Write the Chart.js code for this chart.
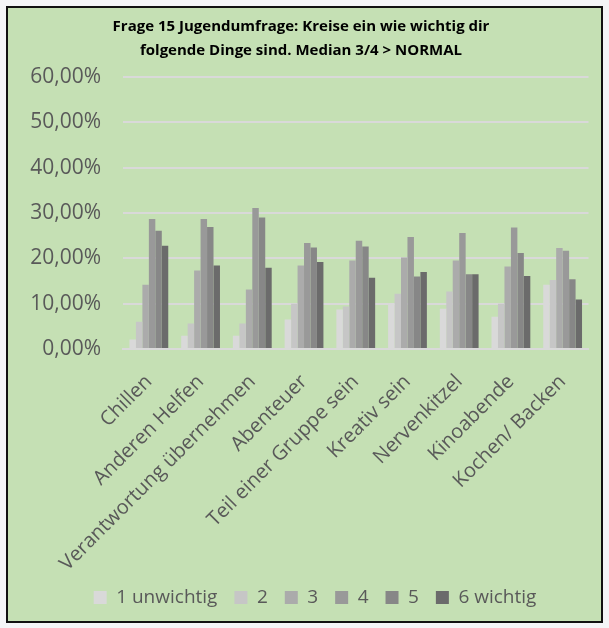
<!DOCTYPE html>
<html>
<head>
<meta charset="utf-8">
<script src="https://cdn.jsdelivr.net/npm/chart.js@4"></script>
<style>
  html, body { margin: 0; padding: 0; background: #f4f5f7; }
  #box {
    position: absolute; left: 6px; top: 6px;
    width: 593px; height: 613px;
    border: 2px solid #111; background: #c5e0b4;
  }
  #canvasId { display: block; }
</style>
</head>
<body>
<div id="box"><canvas id="canvasId" width="593" height="613"></canvas></div>
<script>
var categories = ["Chillen", "Anderen Helfen", "Verantwortung übernehmen", "Abenteuer",
  "Teil einer Gruppe sein", "Kreativ sein", "Nervenkitzel", "Kinoabende", "Kochen/ Backen"];
var seriesNames = ["1 unwichtig", "2", "3", "4", "5", "6 wichtig"];
var s1 = [2.1, 2.9, 2.9, 6.5, 8.7, 10.0, 8.9, 7.1, 14.2];
var s2 = [6.0, 5.6, 5.6, 10.0, 9.4, 12.2, 12.7, 10.0, 15.2];
var s3 = [14.2, 17.3, 13.1, 18.4, 19.5, 20.2, 19.5, 18.2, 22.3];
var s4 = [28.7, 28.7, 31.1, 23.4, 23.9, 24.7, 25.6, 26.8, 21.7];
var s5 = [26.1, 26.9, 29.0, 22.4, 22.6, 16.0, 16.5, 21.2, 15.4];
var s6 = [22.8, 18.4, 17.9, 19.2, 15.7, 17.0, 16.5, 16.1, 10.9];
var yTicks = [0, 10, 20, 30, 40, 50, 60];

var colors = ["#d9d9d9", "#c6c6c6", "#ababab", "#999999", "#878787", "#6b6b6b"];
var allSeries = [s1, s2, s3, s4, s5, s6];
var textGray = "#595959";

let datasets = allSeries.map(function (vals, i) {
  return {
    label: seriesNames[i],
    data: vals,
    backgroundColor: colors[i],
    borderWidth: 0,
    barPercentage: 1.0,
    categoryPercentage: 0.75
  };
});

// the legend sits a bit right of centre in the original
const legendShift = {
  id: "legendShift",
  afterLayout: function (chart) {
    chart.legend.left += 14;
    chart.legend.right += 14;
  }
};

let ctx = document.getElementById("canvasId").getContext("2d");
let chartObj = new Chart(ctx, {
  type: "bar",
  data: { labels: categories, datasets: datasets },
  plugins: [legendShift],
  options: {
    responsive: false,
    animation: false,
    layout: { padding: { left: 0, right: 7, top: 0, bottom: 4 } },
    plugins: {
      title: {
        display: true,
        text: ["Frage 15 Jugendumfrage: Kreise ein wie wichtig dir",
               "folgende Dinge sind. Median 3/4 > NORMAL"],
        color: "#000",
        font: { family: "Open Sans", size: 15, weight: "bold", lineHeight: 1.6 },
        padding: { top: 7, bottom: 14 }
      },
      legend: {
        position: "bottom",
        labels: {
          color: textGray,
          font: { family: "Open Sans", size: 19 },
          boxWidth: 13,
          boxHeight: 13,
          padding: 17
        }
      },
      tooltip: { enabled: false }
    },
    scales: {
      y: {
        min: 0,
        max: 60,
        afterBuildTicks: function (scale) {
          scale.ticks = yTicks.map(function (v) { return { value: v }; });
        },
        afterFit: function (scale) { scale.width = 115; },
        ticks: {
          color: textGray,
          font: { family: "Open Sans", size: 21 },
          padding: 22,
          callback: function (v) { return v.toFixed(2).replace(".", ",") + "%"; }
        },
        grid: { color: "#d9d9d9", lineWidth: 2, drawTicks: false },
        border: { display: false }
      },
      x: {
        afterFit: function (scale) { scale.height = 222; },
        ticks: {
          color: textGray,
          font: { family: "Open Sans", size: 20 },
          minRotation: 45,
          maxRotation: 45,
          autoSkip: false,
          padding: 21
        },
        grid: { display: false, drawTicks: false },
        border: { color: "#d9d9d9", width: 2 }
      }
    }
  }
});
</script>
</body>
</html>
